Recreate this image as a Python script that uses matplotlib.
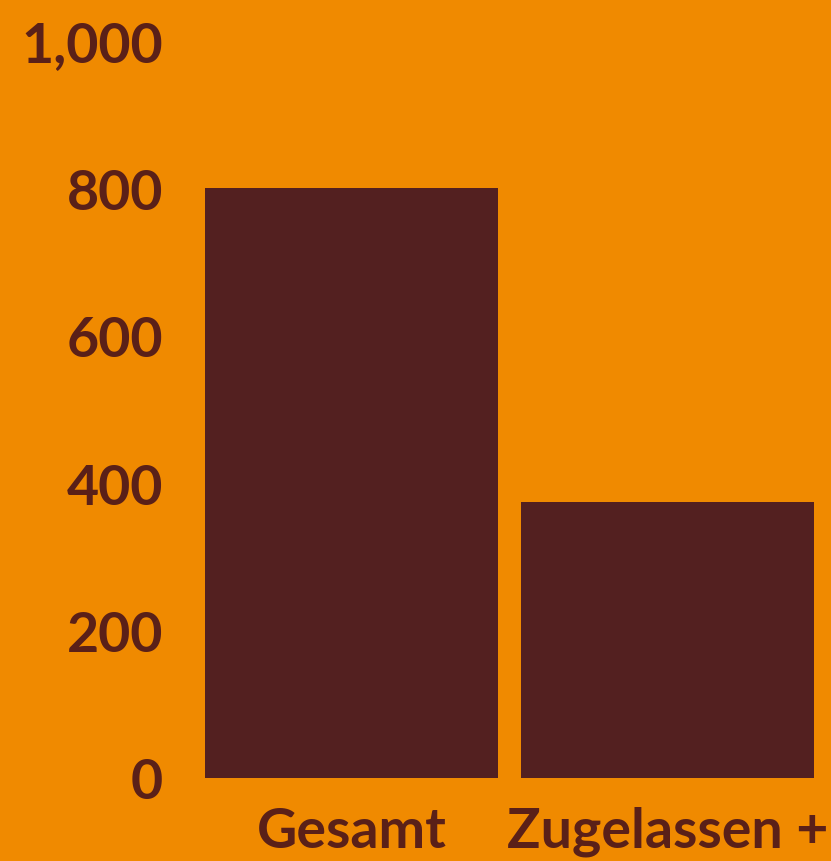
import matplotlib.pyplot as plt
from matplotlib.ticker import FuncFormatter

categories = ['Gesamt', 'Zugelassen +']
values = [800, 375]
yticks = [0, 200, 400, 600, 800, 1000]

bg = '#F08A00'
bar_color = '#532020'
text_color = '#5A2018'

plt.rcParams['font.family'] = ['Lato', 'DejaVu Sans']

fig = plt.figure(figsize=(8.31, 8.62), dpi=100, facecolor=bg)
ax = fig.add_axes([193.5 / 831, 83 / 862, 632 / 831, 737 / 862])
ax.set_facecolor(bg)

ax.bar(range(len(categories)), values, width=0.927, color=bar_color)

ax.set_xlim(-0.5, 1.5)
ax.set_ylim(0, 1000)
ax.set_yticks(yticks)
ax.yaxis.set_major_formatter(FuncFormatter(lambda v, p: f'{int(v):,}'))
ax.set_xticks(range(len(categories)))
ax.set_xticklabels(categories)

for s in ax.spines.values():
    s.set_visible(False)
ax.tick_params(length=0, colors=text_color, labelsize=40)
ax.tick_params(axis='y', pad=22)
ax.tick_params(axis='x', pad=20)
for lab in ax.get_xticklabels() + ax.get_yticklabels():
    lab.set_fontweight('bold')
    lab.set_color(text_color)

fig.savefig('out.png', dpi=100, facecolor=bg)
